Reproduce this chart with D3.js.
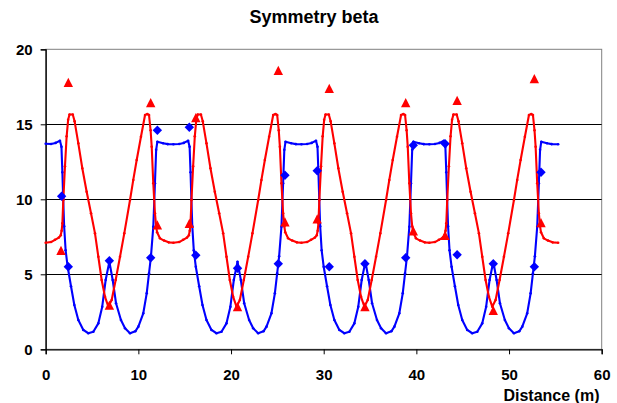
<!DOCTYPE html>
<html>
<head>
<meta charset="utf-8">
<script src="https://cdn.jsdelivr.net/npm/d3@7"></script>
<style>
    body { margin: 0; background: #fff; }
    svg text { font-family: "Liberation Sans", Arial, sans-serif; font-weight: bold; fill: #000; }
</style>
</head>
<body>
<div id="chart"></div>
<script>
// beta functions along the line (x = distance in m)
let blueX = [0, 0.57, 1.07, 1.54, 1.70, 1.80, 1.89, 1.99, 2.15, 2.37, 2.73, 3.09, 3.52, 4.06, 4.6, 5.14, 5.68, 6.1, 6.47, 6.87,
    7.23, 7.59, 8.12, 8.56, 9.1, 9.67, 10.0, 10.53, 10.9, 11.15, 11.36, 11.61, 11.79, 11.92, 12.05, 12.67, 13.17, 13.78,
    14.4, 14.9, 15.37, 15.53, 15.63, 15.72, 15.82, 15.98, 16.2, 16.56, 16.92, 17.35, 17.89, 18.43, 18.97, 19.51, 19.93, 20.3, 20.7,
    21.06, 21.42, 21.95, 22.39, 22.93, 23.5, 23.83, 24.36, 24.73, 24.98, 25.19, 25.44, 25.62, 25.75, 25.88, 26.5, 27.0, 27.6,
    28.2, 28.7, 29.17, 29.33, 29.43, 29.52, 29.62, 29.78, 30.0, 30.36, 30.72, 31.15, 31.69, 32.23, 32.77, 33.31, 33.73, 34.1, 34.5,
    34.86, 35.22, 35.75, 36.19, 36.73, 37.3, 37.63, 38.16, 38.53, 38.78, 38.99, 39.24, 39.42, 39.55, 39.68, 40.3, 40.8, 41.4,
    42.0, 42.5, 42.97, 43.13, 43.23, 43.32, 43.42, 43.58, 43.8, 44.16, 44.52, 44.95, 45.49, 46.03, 46.57, 47.11, 47.53, 47.9, 48.3,
    48.66, 49.02, 49.55, 49.99, 50.53, 51.1, 51.43, 51.96, 52.33, 52.58, 52.79, 53.04, 53.22, 53.35, 53.48, 54.1, 54.6, 55.3];
let blueY = [13.7, 13.69, 13.76, 13.9, 13.5, 11.8, 10.0, 8.2, 6.6, 5.5, 4.2, 2.95, 1.95, 1.29, 1.07, 1.17, 1.73, 2.84, 4.62, 5.84,
    4.62, 3.07, 1.95, 1.4, 1.07, 1.2, 1.51, 2.4, 3.73, 5.07, 6.2, 8.17, 11.07, 13.3, 13.84, 13.74, 13.68, 13.67,
    13.69, 13.76, 13.9, 13.5, 11.8, 10.0, 8.2, 6.6, 5.5, 4.2, 2.95, 1.95, 1.29, 1.07, 1.17, 1.73, 2.84, 4.62, 5.84,
    4.62, 3.07, 1.95, 1.4, 1.07, 1.2, 1.51, 2.4, 3.73, 5.07, 6.2, 8.17, 11.07, 13.3, 13.84, 13.74, 13.68, 13.67,
    13.69, 13.76, 13.9, 13.5, 11.8, 10.0, 8.2, 6.6, 5.5, 4.2, 2.95, 1.95, 1.29, 1.07, 1.17, 1.73, 2.84, 4.62, 5.84,
    4.62, 3.07, 1.95, 1.4, 1.07, 1.2, 1.51, 2.4, 3.73, 5.07, 6.2, 8.17, 11.07, 13.3, 13.84, 13.74, 13.68, 13.67,
    13.69, 13.76, 13.9, 13.5, 11.8, 10.0, 8.2, 6.6, 5.5, 4.2, 2.95, 1.95, 1.29, 1.07, 1.17, 1.73, 2.84, 4.62, 5.84,
    4.62, 3.07, 1.95, 1.4, 1.07, 1.2, 1.51, 2.4, 3.73, 5.07, 6.2, 8.17, 11.07, 13.3, 13.84, 13.74, 13.68, 13.67];

let redX = [0, 0.57, 1.0, 1.42, 1.62, 1.72, 1.8, 1.9, 2.08, 2.26, 2.42, 2.57, 2.92, 3.12, 3.52, 3.95, 4.42, 4.89, 5.32, 5.68, 6.04, 6.4, 6.76,
    7.12, 7.55, 8.02, 8.48, 9.1, 9.45, 9.82, 10.28, 10.72, 10.97, 11.15, 11.32, 11.44, 11.61, 11.79, 11.92, 12.02, 12.33, 12.77, 13.27, 13.78,
    14.4, 14.83, 15.25, 15.45, 15.55, 15.63, 15.73, 15.91, 16.09, 16.25, 16.4, 16.75, 16.95, 17.35, 17.78, 18.25, 18.72, 19.15, 19.51, 19.87, 20.23, 20.59,
    20.95, 21.38, 21.85, 22.31, 22.93, 23.28, 23.65, 24.11, 24.55, 24.8, 24.98, 25.15, 25.27, 25.44, 25.62, 25.75, 25.85, 26.16, 26.6, 27.1, 27.6,
    28.2, 28.63, 29.05, 29.25, 29.35, 29.43, 29.53, 29.71, 29.89, 30.05, 30.2, 30.55, 30.75, 31.15, 31.58, 32.05, 32.52, 32.95, 33.31, 33.67, 34.03, 34.39,
    34.75, 35.18, 35.65, 36.11, 36.73, 37.08, 37.45, 37.91, 38.35, 38.6, 38.78, 38.95, 39.07, 39.24, 39.42, 39.55, 39.65, 39.96, 40.4, 40.9, 41.4,
    42.0, 42.43, 42.85, 43.05, 43.15, 43.23, 43.33, 43.51, 43.69, 43.85, 44.0, 44.35, 44.55, 44.95, 45.38, 45.85, 46.32, 46.75, 47.11, 47.47, 47.83, 48.19,
    48.55, 48.98, 49.45, 49.91, 50.53, 50.88, 51.25, 51.71, 52.15, 52.4, 52.58, 52.75, 52.87, 53.04, 53.22, 53.35, 53.45, 53.76, 54.2, 54.7, 55.3];
let redY = [7.1, 7.15, 7.3, 7.45, 7.6, 7.9, 8.4, 9.95, 12.2, 14.2, 15.3, 15.65, 15.65, 15.2, 13.73, 12.07, 10.5, 9.07, 7.73, 6.17, 4.62, 3.5, 2.84,
    3.29, 4.62, 6.17, 7.73, 9.95, 11.29, 12.62, 14.17, 15.62, 15.68, 15.62, 14.6, 13.5, 11.07, 9.07, 8.2, 7.8, 7.4, 7.25, 7.13, 7.1,
    7.15, 7.3, 7.45, 7.6, 7.9, 8.4, 9.95, 12.2, 14.2, 15.3, 15.65, 15.65, 15.2, 13.73, 12.07, 10.5, 9.07, 7.73, 6.17, 4.62, 3.5, 2.84,
    3.29, 4.62, 6.17, 7.73, 9.95, 11.29, 12.62, 14.17, 15.62, 15.68, 15.62, 14.6, 13.5, 11.07, 9.07, 8.2, 7.8, 7.4, 7.25, 7.13, 7.1,
    7.15, 7.3, 7.45, 7.6, 7.9, 8.4, 9.95, 12.2, 14.2, 15.3, 15.65, 15.65, 15.2, 13.73, 12.07, 10.5, 9.07, 7.73, 6.17, 4.62, 3.5, 2.84,
    3.29, 4.62, 6.17, 7.73, 9.95, 11.29, 12.62, 14.17, 15.62, 15.68, 15.62, 14.6, 13.5, 11.07, 9.07, 8.2, 7.8, 7.4, 7.25, 7.13, 7.1,
    7.15, 7.3, 7.45, 7.6, 7.9, 8.4, 9.95, 12.2, 14.2, 15.3, 15.65, 15.65, 15.2, 13.73, 12.07, 10.5, 9.07, 7.73, 6.17, 4.62, 3.5, 2.84,
    3.29, 4.62, 6.17, 7.73, 9.95, 11.29, 12.62, 14.17, 15.62, 15.68, 15.62, 14.6, 13.5, 11.07, 9.07, 8.2, 7.8, 7.4, 7.25, 7.13, 7.1];

// measured points
let diamondX = [1.72, 2.44, 6.87, 11.33, 12.05, 15.5, 16.2, 20.7, 25.1, 25.82, 29.3, 30.6, 34.45, 38.85, 39.67, 43.1, 44.4, 48.3, 52.73, 53.45];
let diamondY = [10.2, 5.5, 5.9, 6.1, 14.6, 14.8, 6.27, 5.4, 5.7, 11.6, 11.9, 5.5, 5.7, 6.1, 13.6, 13.7, 6.3, 5.7, 5.5, 11.8];
let triangleX = [1.65, 2.44, 6.87, 11.33, 12.05, 15.5, 16.2, 20.7, 25.1, 25.82, 29.3, 30.6, 34.45, 38.85, 39.67, 43.1, 44.4, 48.3, 52.73, 53.45];
let triangleY = [6.6, 17.8, 2.95, 16.45, 8.3, 8.4, 15.45, 2.85, 18.6, 8.5, 8.7, 17.4, 2.85, 16.45, 7.9, 7.6, 16.6, 2.6, 18.05, 8.45];

let xTicks = [0, 10, 20, 30, 40, 50, 60];
let yTicks = [0, 5, 10, 15, 20];

let width = 617,
    height = 403,
    margin = { top: 49.3, right: 15.3, bottom: 53.7, left: 45.7 };

let svg = d3.select('#chart').append('svg')
    .attr('width', width)
    .attr('height', height);

let x = d3.scaleLinear().domain([0, 60]).range([margin.left, width - margin.right]);
let y = d3.scaleLinear().domain([0, 20]).range([height - margin.bottom, margin.top]);

// plot area border (grey, top and right)
svg.append('rect')
    .attr('x', x(0))
    .attr('y', y(20))
    .attr('width', x(60) - x(0))
    .attr('height', y(0) - y(20))
    .attr('fill', 'none')
    .attr('stroke', '#808080')
    .attr('stroke-width', 1);

// gridlines
svg.append('g')
    .selectAll('line')
    .data(yTicks.filter(function(d) { return d > 0 && d < 20; }))
    .enter().append('line')
    .attr('x1', x(0))
    .attr('x2', x(60))
    .attr('y1', function(d) { return Math.round(y(d)) + 0.5; })
    .attr('y2', function(d) { return Math.round(y(d)) + 0.5; })
    .attr('stroke', '#000')
    .attr('stroke-width', 1);

let xAxis = svg.append('g')
    .attr('transform', 'translate(0,' + y(0) + ')')
    .call(d3.axisBottom(x).tickValues(xTicks).tickSize(5).tickPadding(15));

let yAxis = svg.append('g')
    .attr('transform', 'translate(' + x(0) + ',0)')
    .call(d3.axisLeft(y).tickValues(yTicks).tickSize(5).tickPadding(8));

[xAxis, yAxis].forEach(function(a) {
    a.select('.domain').attr('stroke', '#000').attr('stroke-width', 1.3);
    a.selectAll('.tick line').attr('stroke', '#000');
    a.selectAll('.tick text')
        .attr('font-size', '15px')
        .attr('font-family', '"Liberation Sans", Arial, sans-serif')
        .attr('font-weight', 'bold')
        .attr('fill', '#000');
});

let line = d3.line()
    .x(function(d) { return x(d[0]); })
    .y(function(d) { return y(d[1]); });

let series = [
    { color: '#0000ff', pts: blueX.map(function(d, i) { return [d, blueY[i]]; }) },
    { color: '#ff0000', pts: redX.map(function(d, i) { return [d, redY[i]]; }) }
];

series.forEach(function(s) {
    svg.append('path')
        .datum(s.pts)
        .attr('d', line)
        .attr('fill', 'none')
        .attr('stroke', s.color)
        .attr('stroke-width', 2.1)
        .attr('stroke-linejoin', 'round');

    // the little point markers along the lines
    svg.append('g')
        .selectAll('circle')
        .data(s.pts)
        .enter().append('circle')
        .attr('cx', function(d) { return x(d[0]); })
        .attr('cy', function(d) { return y(d[1]); })
        .attr('r', 1.3)
        .attr('fill', s.color);
});

svg.append('g')
    .selectAll('path')
    .data(diamondX.map(function(d, i) { return [d, diamondY[i]]; }))
    .enter().append('path')
    .attr('transform', function(d) { return 'translate(' + x(d[0]) + ',' + y(d[1]) + ')'; })
    .attr('d', 'M0,-4.7L4.7,0L0,4.7L-4.7,0Z')
    .attr('fill', '#0000ff');

svg.append('g')
    .selectAll('path')
    .data(triangleX.map(function(d, i) { return [d, triangleY[i]]; }))
    .enter().append('path')
    .attr('transform', function(d) { return 'translate(' + x(d[0]) + ',' + y(d[1]) + ')'; })
    .attr('d', 'M0,-4.6L4.7,4.6L-4.7,4.6Z')
    .attr('fill', '#ff0000');

svg.append('text')
    .attr('x', 314)
    .attr('y', 23)
    .attr('text-anchor', 'middle')
    .attr('font-size', '18px')
    .text('Symmetry beta');

svg.append('text')
    .attr('x', 599.5)
    .attr('y', 401)
    .attr('text-anchor', 'end')
    .attr('font-size', '16px')
    .text('Distance (m)');
</script>
</body>
</html>
